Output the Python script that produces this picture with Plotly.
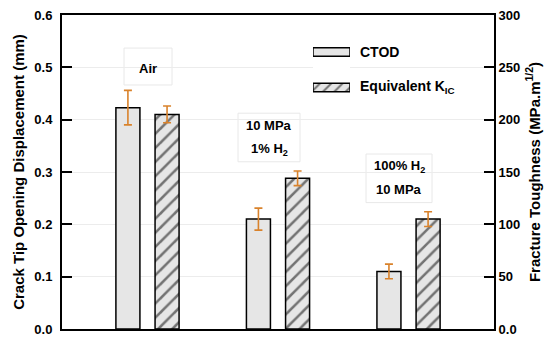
import plotly.graph_objects as go

# ---- data ----
groups = [1, 2, 3]
ctod = [0.423, 0.210, 0.110]
ctod_err = [0.033, 0.021, 0.014]
kic = [205, 144, 105]
kic_err = [8, 7, 7]
left_ticks = [0.0, 0.1, 0.2, 0.3, 0.4, 0.5, 0.6]
left_ticktext = ["0.0", "0.1", "0.2", "0.3", "0.4", "0.5", "0.6"]
right_ticks = [0, 50, 100, 150, 200, 250, 300]
right_ticktext = ["0.0", "50", "100", "150", "200", "250", "300"]

FONT = "Liberation Sans, Arial, sans-serif"
BAR_FILL = "#e6e6e6"
ERR = "#d9822b"
W = 0.184
SEP = 0.15

fig = go.Figure()
fig.add_trace(go.Bar(
    x=groups, y=ctod, width=W, offset=-SEP - W / 2, name="CTOD",
    marker=dict(color=BAR_FILL, line=dict(color="black", width=1.5)),
    error_y=dict(type="data", array=ctod_err, color=ERR, thickness=1.6, width=4),
    yaxis="y", xaxis="x", showlegend=False,
))
fig.add_trace(go.Bar(
    x=groups, y=kic, width=W, offset=SEP - W / 2, name="Equivalent KIC",
    marker=dict(color=BAR_FILL, line=dict(color="black", width=1.5),
                pattern=dict(shape="/", fgcolor="black", bgcolor=BAR_FILL, size=10, solidity=0.25)),
    error_y=dict(type="data", array=kic_err, color=ERR, thickness=1.6, width=4),
    yaxis="y2", xaxis="x", showlegend=False,
))

# ---- hand-made legend icons (wide rectangles) ----
L, R, T, B = 62, 55, 14, 8
PW, PH = 549 - L - R, 345 - T - B
def px2x(px): return (px - L) / PW
def py2y(py): return (345 - B - py) / PH

fig.add_trace(go.Bar(
    y=[0.863], x=[1], orientation="h", width=0.17, xaxis="x3", yaxis="y3",
    marker=dict(color=BAR_FILL, line=dict(color="black", width=1.5)),
    showlegend=False, hoverinfo="skip",
))
fig.add_trace(go.Bar(
    y=[0.147], x=[1], orientation="h", width=0.17, xaxis="x3", yaxis="y3",
    marker=dict(color=BAR_FILL, line=dict(color="black", width=1.5),
                pattern=dict(shape="/", fgcolor="black", bgcolor=BAR_FILL, size=8, solidity=0.25)),
    showlegend=False, hoverinfo="skip",
))

bold = dict(family=FONT, size=13, color="black", weight="bold")

def label(text, px, py, anchor="center", size=13):
    return dict(text=text, x=px2x(px), y=py2y(py), xref="paper", yref="paper",
                xanchor=anchor, yanchor="middle", showarrow=False, font=dict(bold, size=size))

annotations = [
    label("CTOD", 358, 52, "left", 14),
    label("Equivalent K<sub>IC</sub>", 358, 88, "left", 14),
    label("Air", 148, 69),
    label("10 MPa", 269, 128),
    label("1% H<sub>2</sub>", 269, 152),
    label("100% H<sub>2</sub>", 399, 170),
    label("10 MPa", 399, 194),
]

boxes = [(124, 48, 172, 86), (238, 115, 300, 165), (366, 157, 432, 207)]
shapes = [dict(type="rect", xref="paper", yref="paper",
               x0=px2x(a), x1=px2x(c), y0=py2y(d), y1=py2y(b),
               fillcolor="white", line=dict(color="#e8e8e8", width=1), layer="below")
          for a, b, c, d in boxes]

fig.update_layout(
    width=549, height=345,
    margin=dict(l=L, r=R, t=T, b=B),
    paper_bgcolor="white", plot_bgcolor="white",
    barmode="overlay",
    showlegend=False,
    font=dict(family=FONT, color="black"),
    annotations=annotations,
    shapes=shapes,
    xaxis=dict(range=[0.345, 3.655], showticklabels=False, ticks="", showgrid=False,
               showline=True, linecolor="black", linewidth=2, mirror=True, zeroline=False),
    yaxis=dict(range=[0, 0.6], tickvals=left_ticks, ticktext=left_ticktext,
               ticks="inside", ticklen=10, tickwidth=1.5, tickcolor="black",
               showline=True, linecolor="black", linewidth=2, zeroline=False,
               showgrid=True, gridcolor="#ececec", gridwidth=1,
               tickfont=dict(bold, size=13), ticklabelstandoff=5,
               title=dict(text="Crack Tip Opening Displacement (mm)", font=dict(bold, size=15), standoff=6)),
    yaxis2=dict(range=[0, 300], overlaying="y", side="right", tickvals=right_ticks, ticktext=right_ticktext,
                ticks="inside", ticklen=10, tickwidth=1.5, tickcolor="black",
                showline=True, linecolor="black", linewidth=2, zeroline=False, showgrid=False,
                tickfont=dict(bold, size=13),
                title=dict(text="Fracture Toughness (MPa.m<sup>1/2</sup>)", font=dict(bold, size=15), standoff=10)),
    xaxis3=dict(domain=[px2x(313), px2x(350)], range=[0, 1], anchor="y3", visible=False, fixedrange=True),
    yaxis3=dict(domain=[py2y(96), py2y(45)], range=[0, 1], anchor="x3", visible=False, fixedrange=True),
)

fig.write_html("out.html")
